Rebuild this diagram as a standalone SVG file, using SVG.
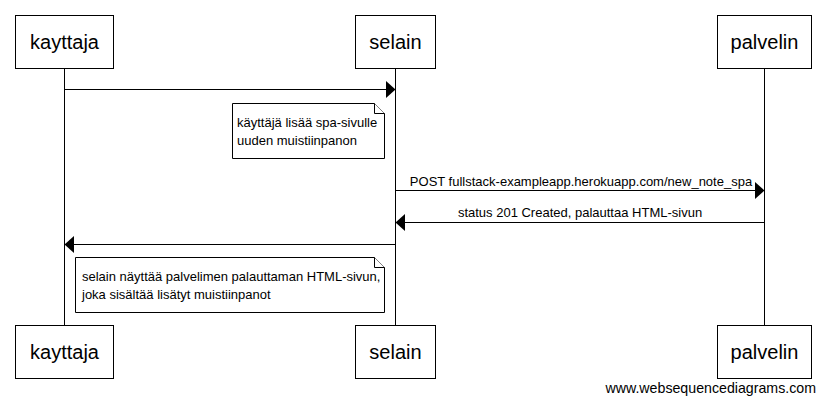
<svg xmlns="http://www.w3.org/2000/svg" width="825" height="403" viewBox="0 0 825 403">
<style>
.box{fill:#fff;stroke:#000;stroke-width:1}
.life{stroke:#000;stroke-width:1}
.msg{stroke:#000;stroke-width:1;fill:none}
.head{fill:#000}
.note{fill:#fff;stroke:#000;stroke-width:1}
.pt{font-family:"Liberation Sans",Arial,sans-serif;font-size:20px;fill:#000;text-anchor:middle}
.t{font-family:"Liberation Sans",Arial,sans-serif;font-size:13px;fill:#000}
.c{text-anchor:middle}
.wm{font-family:"Liberation Sans",Arial,sans-serif;font-size:14.2px;fill:#000;text-anchor:end}
</style>
<rect width="825" height="403" fill="#fff"/>
<g id="lifelines">
<line class="life" x1="64.5" y1="68" x2="64.5" y2="325"/>
<line class="life" x1="395.5" y1="68" x2="395.5" y2="325"/>
<line class="life" x1="764.5" y1="68" x2="764.5" y2="325"/>
</g>
<g id="kayttaja">
<rect class="box" x="15.5" y="15.5" width="98" height="53"/>
<text class="pt" x="64.5" y="49">kayttaja</text>
</g>
<g id="selain">
<rect class="box" x="355.5" y="15.5" width="80" height="53"/>
<text class="pt" x="395.5" y="49">selain</text>
</g>
<g id="palvelin">
<rect class="box" x="717.5" y="15.5" width="94" height="53"/>
<text class="pt" x="764.5" y="49">palvelin</text>
</g>
<g id="kayttaja-bottom">
<rect class="box" x="15.5" y="325.5" width="98" height="53"/>
<text class="pt" x="64.5" y="359">kayttaja</text>
</g>
<g id="selain-bottom">
<rect class="box" x="355.5" y="325.5" width="80" height="53"/>
<text class="pt" x="395.5" y="359">selain</text>
</g>
<g id="palvelin-bottom">
<rect class="box" x="717.5" y="325.5" width="94" height="53"/>
<text class="pt" x="764.5" y="359">palvelin</text>
</g>
<g id="connectors">
<line class="msg" x1="64.5" y1="89.5" x2="387" y2="89.5"/>
<polygon class="head" points="386,81 395.5,89.5 386,98"/>
<line class="msg" x1="395.5" y1="190.5" x2="756" y2="190.5"/>
<polygon class="head" points="755,182 764.5,190.5 755,199"/>
<text class="t c" x="581" y="186">POST fullstack-exampleapp.herokuapp.com/new_note_spa</text>
<line class="msg" x1="764.5" y1="222.5" x2="404" y2="222.5"/>
<polygon class="head" points="405,214 395.5,222.5 405,231"/>
<text class="t c" x="580" y="217">status 201 Created, palauttaa HTML-sivun</text>
<line class="msg" x1="395.5" y1="244.5" x2="73" y2="244.5"/>
<polygon class="head" points="74,236 64.5,244.5 74,253"/>
</g>
<g id="note1">
<path class="note" d="M232.5,103.5 H374.5 L384.5,113.5 V158.5 H232.5 Z"/>
<path class="note" d="M374.5,103.5 V113.5 H384.5" fill="none"/>
<text class="t" x="237" y="127">käyttäjä lisää spa-sivulle</text>
<text class="t" x="237" y="145">uuden muistiinpanon</text>
</g>
<g id="note2">
<path class="note" d="M75.5,257.5 H374.5 L384.5,267.5 V312.5 H75.5 Z"/>
<path class="note" d="M374.5,257.5 V267.5 H384.5" fill="none"/>
<text class="t" x="82" y="281">selain näyttää palvelimen palauttaman HTML-sivun,</text>
<text class="t" x="82" y="299">joka sisältää lisätyt muistiinpanot</text>
</g>
<text class="wm" x="816" y="393">www.websequencediagrams.com</text>
</svg>
